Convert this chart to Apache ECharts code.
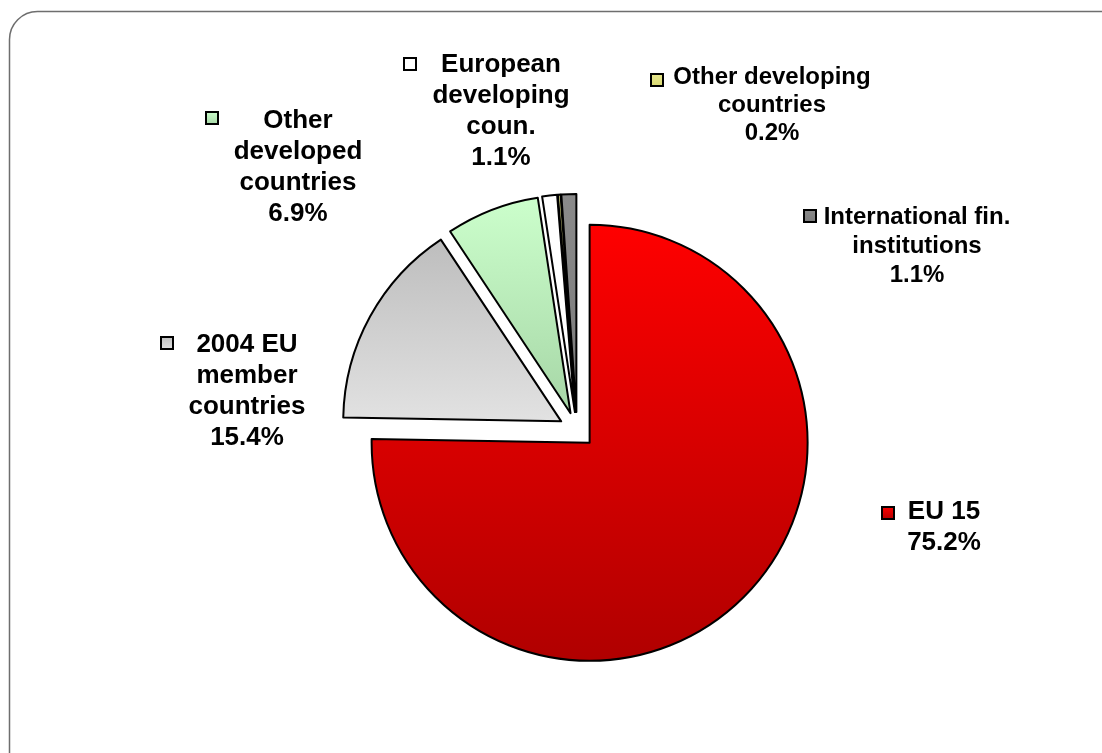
<!DOCTYPE html>
<html>
<head>
<meta charset="utf-8">
<title>Pie</title>
<script src="https://cdn.jsdelivr.net/npm/echarts@6/dist/echarts.min.js"></script>
<style>
  html, body { margin: 0; padding: 0; background: #fff; }
  #main { width: 1102px; height: 753px; }
</style>
</head>
<body>
<div id="main"></div>
<script>
// Data
const categories = ['EU 15', '2004 EU member countries', 'Other developed countries',
  'European developing coun.', 'Other developing countries', 'International fin. institutions'];
const labelLines = ['EU 15', '2004 EU\nmember\ncountries', 'Other\ndeveloped\ncountries',
  'European\ndeveloping\ncoun.', 'Other developing\ncountries', 'International fin.\ninstitutions'];
const shares = [75.2, 15.4, 6.9, 1.1, 0.2, 1.1];

// Colours (top, bottom of the gradient)
const fills = [
  ['#ff0000', '#b00000'],
  ['#bdbdbd', '#e2e2e2'],
  ['#ccffcc', '#a6d6a6'],
  ['#ffffff', '#ffffff'],
  ['#e8e890', '#d8d870'],
  ['#8a8a8a', '#7a7a7a']
];

// Label block centres, font sizes and key boxes
const labelPos = [[944, 527], [247, 391], [298, 167], [501, 111], [772, 105], [917, 246]];
const labelFont = [[26, 31], [26, 31], [26, 31], [26, 31], [24, 28], [24, 29]];
const keyPos = [[882, 507], [161, 337], [206, 112], [404, 58], [651, 74], [804, 210]];

const grad = (c) => new echarts.graphic.LinearGradient(0, 0, 0, 1, [
  { offset: 0, color: c[0] }, { offset: 1, color: c[1] }
]);

const chart = echarts.init(document.getElementById('main'));

const keys = keyPos.map((p, i) => ({
  type: 'rect',
  shape: { x: p[0], y: p[1], width: 12, height: 12 },
  style: { fill: grad(fills[i]), stroke: '#000', lineWidth: 2 }
}));

const pieBase = {
  type: 'pie',
  center: [577, 430],
  radius: 218,
  startAngle: 90,
  clockwise: true,
  avoidLabelOverlap: false,
  emphasis: { disabled: true },
  labelLine: { show: false }
};

chart.setOption({
  backgroundColor: '#fff',
  animation: false,
  graphic: [
    {
      type: 'rect',
      shape: { x: 9.5, y: 11.5, width: 1130, height: 780, r: 28 },
      style: { fill: 'none', stroke: '#6e6e6e', lineWidth: 1.5 }
    }
  ].concat(keys),
  series: [
    // exploded slices
    Object.assign({}, pieBase, {
      selectedMode: 'multiple',
      selectedOffset: 18,
      itemStyle: { borderColor: '#000', borderWidth: 2 },
      label: { show: false },
      data: categories.map((name, i) => ({
        name: name,
        value: shares[i],
        selected: true,
        itemStyle: { color: grad(fills[i]) }
      }))
    }),
    // labels
    Object.assign({}, pieBase, {
      silent: true,
      z: 3,
      itemStyle: { color: 'rgba(0,0,0,0)', borderWidth: 0 },
      label: {
        show: true,
        position: 'outside',
        fontFamily: '"Liberation Sans", Arial, sans-serif',
        fontWeight: 'bold',
        color: '#000',
        align: 'center',
        formatter: (p) => labelLines[p.dataIndex] + '\n' + shares[p.dataIndex].toFixed(1) + '%'
      },
      labelLayout: (p) => ({
        x: labelPos[p.dataIndex][0],
        y: labelPos[p.dataIndex][1],
        align: 'center',
        verticalAlign: 'middle'
      }),
      data: categories.map((name, i) => ({
        name: name,
        value: shares[i],
        label: { fontSize: labelFont[i][0], lineHeight: labelFont[i][1] }
      }))
    })
  ]
});
</script>
</body>
</html>
